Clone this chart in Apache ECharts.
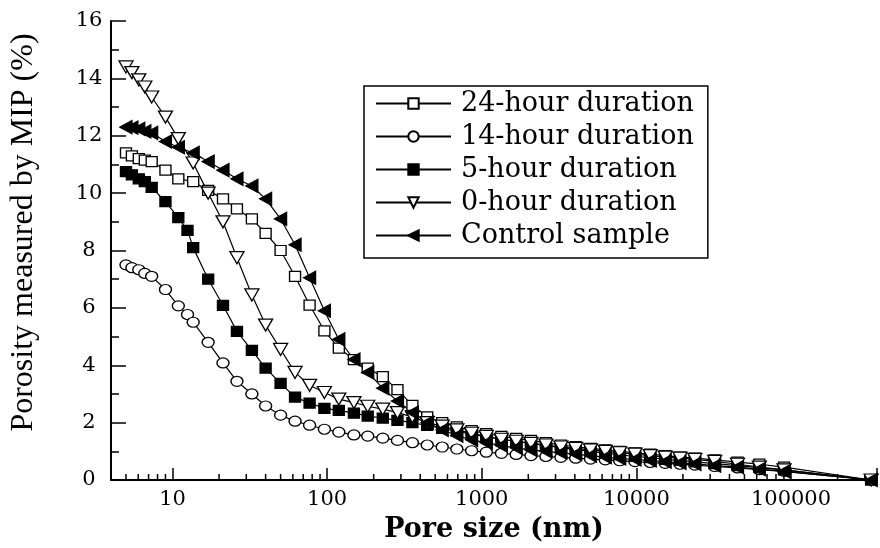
<!DOCTYPE html>
<html>
<head>
<meta charset="utf-8">
<script src="https://cdn.jsdelivr.net/npm/echarts@6.0.0/dist/echarts.min.js"></script>
<style>
html, body { margin: 0; padding: 0; background: #fff; }
#mipChart { width: 880px; height: 548px; }
</style>
</head>
<body>
<div id="mipChart"></div>
<script>
// pore sizes (nm), same intrusion steps for every sample
const poreSize = [5.0, 5.46, 6.05, 6.62, 7.33, 9.0, 10.9, 12.5, 13.6, 17.0, 21.2, 26.1, 32.6, 40, 50, 62, 77, 96, 119, 149, 183, 229, 285, 356, 444, 555, 690, 860, 1070, 1340, 1670, 2080, 2600, 3250, 4050, 5050, 6300, 7800, 9800, 12290, 15350, 19150, 23900, 32100, 45100, 62400, 90200, 330000]

// porosity (%) per sample, null = no point at that step
const hour24 = [11.4, 11.3, 11.2, 11.15, 11.1, 10.8, 10.5, null, 10.4, 10.1, 9.8, 9.45, 9.1, 8.6, 8.0, 7.1, 6.1, 5.2, 4.6, 4.2, 3.9, 3.6, 3.15, 2.6, 2.2, 2.0, 1.85, 1.72, 1.62, 1.52, 1.45, 1.38, 1.3, 1.22, 1.16, 1.1, 1.05, 1.0, 0.95, 0.9, 0.85, 0.8, 0.76, 0.7, 0.62, 0.55, 0.45, 0]
const hour14 = [7.5, 7.4, 7.33, 7.2, 7.1, 6.64, 6.07, 5.77, 5.5, 4.8, 4.08, 3.44, 3.0, 2.58, 2.26, 2.05, 1.91, 1.77, 1.67, 1.57, 1.53, 1.46, 1.38, 1.3, 1.22, 1.15, 1.08, 1.02, 0.97, 0.93, 0.89, 0.85, 0.82, 0.79, 0.76, 0.73, 0.7, 0.67, 0.64, 0.61, 0.58, 0.55, 0.52, 0.47, 0.42, 0.36, 0.3, 0]
const hour5 = [10.75, 10.64, 10.5, 10.4, 10.2, 9.7, 9.15, 8.7, 8.1, 7.0, 6.09, 5.18, 4.52, 3.9, 3.37, 2.89, 2.68, 2.5, 2.43, 2.33, 2.23, 2.16, 2.08, 2.0, 1.9, 1.8, 1.7, 1.6, 1.5, 1.42, 1.35, 1.28, 1.2, 1.13, 1.06, 1.0, 0.94, 0.88, 0.82, 0.78, 0.72, 0.68, 0.63, 0.57, 0.5, 0.43, 0.35, 0]
const hour0 = [14.4, 14.2, 13.95, 13.7, 13.35, 12.65, 11.9, null, 11.05, 10.0, 9.0, 7.75, 6.45, 5.4, 4.55, 3.75, 3.3, 3.05, 2.82, 2.7, 2.57, 2.47, 2.35, 2.2, 2.0, 1.88, 1.75, 1.63, 1.52, 1.42, 1.35, 1.28, 1.22, 1.15, 1.1, 1.05, 1.0, 0.95, 0.9, 0.85, 0.8, 0.76, 0.72, 0.65, 0.55, 0.45, 0.35, 0]
const control = [12.3, 12.28, 12.24, 12.15, 12.1, 11.8, 11.6, null, 11.4, 11.1, 10.8, 10.5, 10.25, 9.8, 9.1, 8.2, 7.05, 5.9, 4.9, 4.2, 3.75, 3.2, 2.75, 2.35, 2.0, 1.75, 1.55, 1.4, 1.3, 1.2, 1.12, 1.05, 1.0, 0.95, 0.9, 0.85, 0.8, 0.75, 0.72, 0.68, 0.64, 0.6, 0.56, 0.5, 0.45, 0.38, 0.3, 0]

const seriesNames = ['24-hour duration', '14-hour duration', '5-hour duration', '0-hour duration', 'Control sample']
const yTicks = [0, 2, 4, 6, 8, 10, 12, 14, 16]

// minor ticks of the log axis (2..9 in each decade)
const minorTickValues = []
;[1, 10, 100, 1000, 10000, 100000].forEach(d => {
  for (let k = 2; k <= 9; k++) {
    if (k * d > 4 && k * d < 360000) minorTickValues.push(k * d)
  }
})

const pairs = (ys) => poreSize.map((x, i) => [x, ys[i]]).filter(p => p[1] !== null)

const serifFont = 'DejaVu Serif'
const mkSeries = (name, ys, symbol, size, fill, rotate) => ({
  name: name,
  type: 'line',
  data: pairs(ys),
  symbol: symbol,
  symbolSize: size,
  symbolRotate: rotate || 0,
  showAllSymbol: true,
  lineStyle: { color: '#000', width: 1.2 },
  itemStyle: { color: fill, borderColor: '#000', borderWidth: 1.3 },
  emphasis: { disabled: true },
  animation: false
})

const chart = echarts.init(document.getElementById('mipChart'))
chart.setOption({
  backgroundColor: '#fff',
  animation: false,
  grid: { left: 107, right: 0, top: 21, bottom: 67 },
  legend: {
    data: seriesNames,
    orient: 'vertical',
    left: 364,
    top: 86,
    itemWidth: 75,
    itemHeight: 13,
    itemGap: 6,
    padding: [4, 14, 9, 11],
    borderColor: '#000',
    borderWidth: 1.5,
    backgroundColor: '#fff',
    selectedMode: false,
    textStyle: { fontFamily: serifFont, fontSize: 27, color: '#000', padding: [0, 0, 0, 5] }
  },
  xAxis: {
    type: 'log',
    logBase: 10,
    min: 4,
    max: 360000,
    name: 'Pore size (nm)',
    nameLocation: 'middle',
    nameGap: 36,
    nameTextStyle: { fontFamily: serifFont, fontSize: 27, fontWeight: 'bold', color: '#000' },
    axisLine: { lineStyle: { color: '#000', width: 2 } },
    axisTick: { inside: true, length: 12, lineStyle: { color: '#000', width: 1.5 } },
    splitLine: { show: false },
    axisLabel: {
      fontFamily: serifFont,
      fontSize: 21,
      color: '#000',
      margin: 9,
      showMinLabel: true,
      showMaxLabel: true,
      formatter: (v) => {
        const l = Math.log10(v)
        return (Math.abs(l - Math.round(l)) < 1e-6 && v >= 10) ? String(Math.round(v)) : ''
      }
    }
  },
  yAxis: {
    type: 'value',
    min: yTicks[0],
    max: yTicks[yTicks.length - 1],
    interval: 2,
    name: 'Porosity measured by MIP (%)',
    nameLocation: 'middle',
    nameGap: 71,
    nameTextStyle: { fontFamily: 'Liberation Serif', fontSize: 32, color: '#000', padding: [0, 0, 0, 36] },
    axisLine: { show: true, lineStyle: { color: '#000', width: 2 } },
    axisTick: { show: true, inside: true, length: 15, lineStyle: { color: '#000', width: 1.5 } },
    minorTick: { show: true, splitNumber: 2, length: 8, lineStyle: { color: '#000', width: 1.5 } },
    splitLine: { show: false },
    axisLabel: { fontFamily: serifFont, fontSize: 21, color: '#000', align: 'center', margin: 22 }
  },
  series: [
    mkSeries(seriesNames[0], hour24, 'rect', [11, 10], '#fff'),
    mkSeries(seriesNames[1], hour14, 'circle', [12, 10], '#fff'),
    mkSeries(seriesNames[2], hour5, 'rect', [11, 10], '#000'),
    mkSeries(seriesNames[3], hour0, 'triangle', [14, 12], '#fff', 180),
    mkSeries(seriesNames[4], control, 'triangle', [13, 12], '#000', 90),
    {
      type: 'custom',
      silent: true,
      data: minorTickValues.map(v => [v, 0]),
      encode: { x: 0, y: 1 },
      renderItem: (params, api) => {
        const p = api.coord([api.value(0), 0])
        return {
          type: 'line',
          shape: { x1: p[0], y1: p[1], x2: p[0], y2: p[1] - 6 },
          style: { stroke: '#000', lineWidth: 1.5 }
        }
      }
    }
  ]
})
</script>
</body>
</html>
